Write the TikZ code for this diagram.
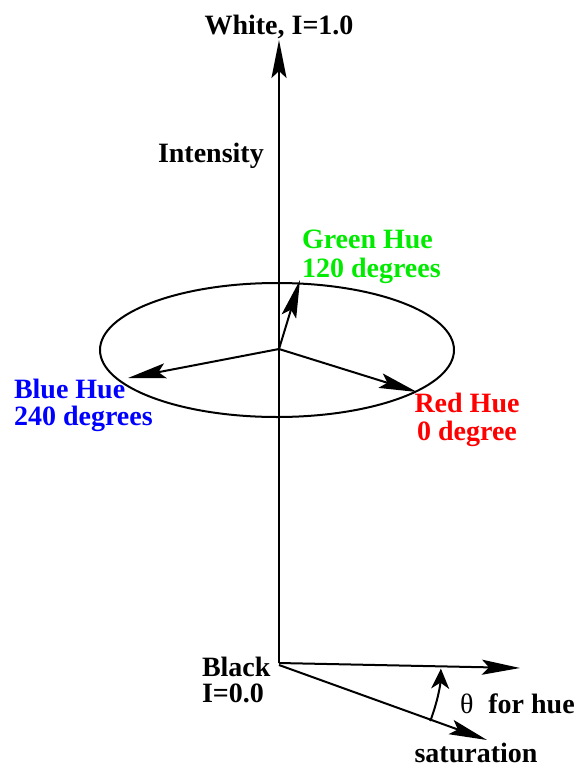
\documentclass[tikz,border=0pt]{standalone}
\usepackage{fontspec}
\setmainfont{Liberation Serif}
\usetikzlibrary{arrows.meta,calc}
\definecolor{hgreen}{RGB}{0,235,0}
\definecolor{hblue}{RGB}{0,0,255}
\definecolor{hred}{RGB}{255,0,0}
\begin{document}
\begin{tikzpicture}[x=1pt,y=-1pt,
  line width=2pt,
  arr/.style={-{Stealth[length=38pt,width=15pt,inset=7pt]}},
  arcarr/.style={-{Stealth[length=20pt,width=18pt,inset=6pt]}},
  lbl/.style={inner sep=0pt,font=\fontsize{28}{28}\selectfont\bfseries},
  every node/.style={inner sep=0pt}]
\useasboundingbox (0,0) rectangle (580,768);
% coordinates
\coordinate (O) at (279,663);
\coordinate (top) at (279,40);
\coordinate (C) at (279,349);
\coordinate (gtip) at (300,280);
\coordinate (btip) at (128,378);
\coordinate (rtip) at (417,392);
\coordinate (htip) at (520,668);
\coordinate (stip) at (487,740);
% ellipse
\draw (277,350) ellipse [x radius=177, y radius=67];
% axis
\draw[arr] (O) -- (top);
% hue arrows
\draw[arr] (C) -- (gtip);
\draw[arr] (C) -- (btip);
\draw[arr] (C) -- (rtip);
% bottom arrows
\draw[arr] (O) -- (htip);
\draw[arr] ($(O)+(0,2)$) coordinate (O2) -- (stip);
\draw[arcarr] ($(O)+(21:162)$) coordinate (arcstart) arc (21:2:162) coordinate (arcend);
% labels
\node[lbl,anchor=base] (white) at (279,35) {White, I=1.0};
\node[lbl,anchor=base west] (intensity) at (157,162) {Intensity};
\node[lbl,anchor=base west,text=hgreen] (green1) at (301,248) {Green Hue};
\node[lbl,anchor=base west,text=hgreen] (green2) at (301,277) {120 degrees};
\node[lbl,anchor=base west,text=hblue] (blue1) at (13,398) {Blue Hue};
\node[lbl,anchor=base west,text=hblue] (blue2) at (13,425) {240 degrees};
\node[lbl,anchor=base,text=hred] (red1) at (467,412) {Red Hue};
\node[lbl,anchor=base,text=hred] (red2) at (467,440) {0 degree};
\node[lbl,anchor=base west] (black1) at (201,676) {Black};
\node[lbl,anchor=base west] (black2) at (201,702) {I=0.0};
\node[lbl,anchor=base west] (hue) at (459,713) {{\mdseries θ}\hspace{15pt}for hue};
\node[lbl,anchor=base] (sat) at (476,762) {saturation};
\end{tikzpicture}
\end{document}
